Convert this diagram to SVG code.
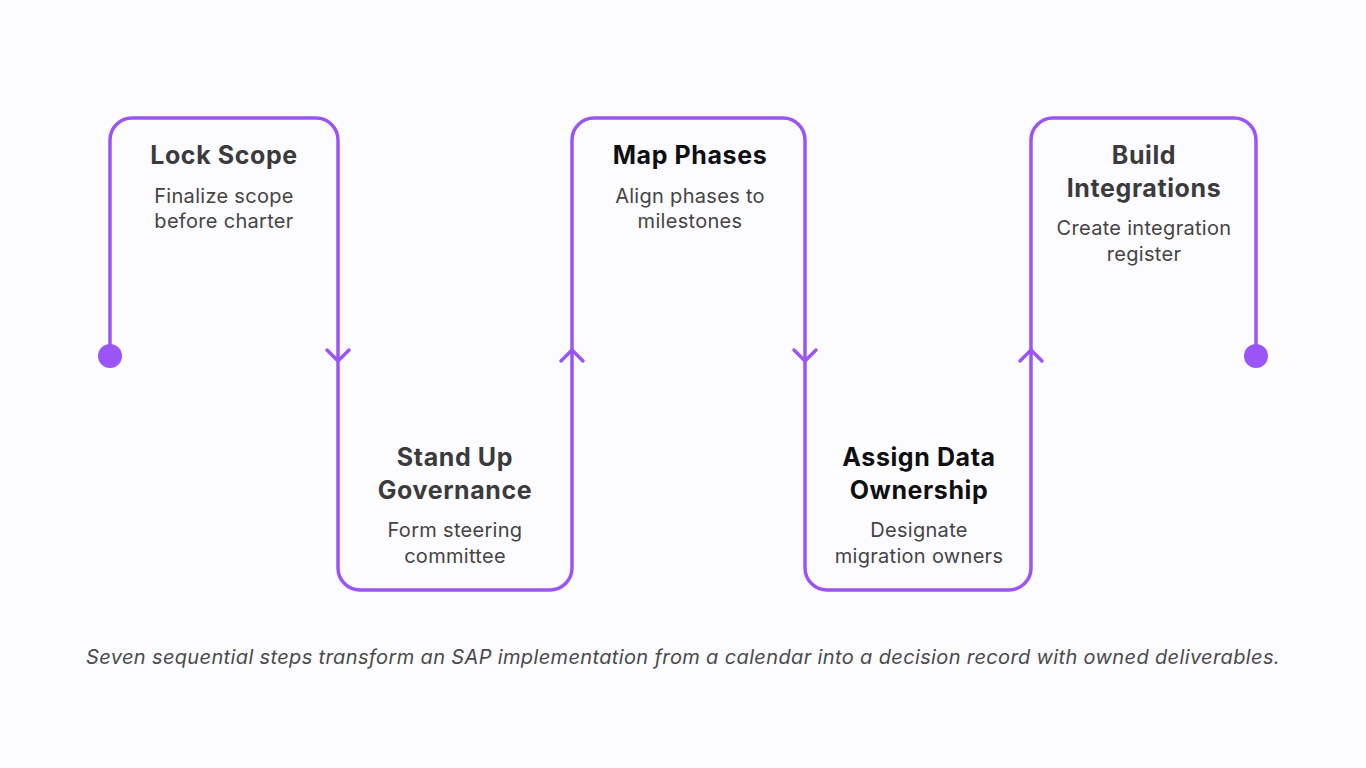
<svg xmlns="http://www.w3.org/2000/svg" width="1366" height="768" viewBox="0 0 1366 768">
<defs>
<style>
.t{font-family:Inter,"Noto Sans",sans-serif;font-weight:700;font-size:25px;letter-spacing:0.6px;fill:#3b3b3d;text-anchor:middle}
.t.k{fill:#0f0f12}
.s{font-family:Inter,"Noto Sans",sans-serif;font-weight:400;font-size:20px;letter-spacing:0.3px;fill:#444446;text-anchor:middle}
.c{font-family:Inter,"Noto Sans",sans-serif;font-style:italic;font-size:20px;letter-spacing:0.36px;fill:#4a4a4c;text-anchor:middle}
.ln{fill:none;stroke:#9b55f6;stroke-width:3.5;stroke-linecap:round;stroke-linejoin:round}
</style>
</defs>
<rect width="1366" height="768" fill="#fcfbfd"/>
<g id="connectors">
<path class="ln" d="M110 356 V140 A22 22 0 0 1 132 118 H316 A22 22 0 0 1 338 140 V568 A22 22 0 0 0 360 590 H550 A22 22 0 0 0 572 568 V140 A22 22 0 0 1 594 118 H783 A22 22 0 0 1 805 140 V568 A22 22 0 0 0 827 590 H1009 A22 22 0 0 0 1031 568 V140 A22 22 0 0 1 1053 118 H1234 A22 22 0 0 1 1256 140 V356"/>
<path class="ln" d="M327 350 L338 361 L349 350"/>
<path class="ln" d="M561 361 L572 350 L583 361"/>
<path class="ln" d="M794 350 L805 361 L816 350"/>
<path class="ln" d="M1020 361 L1031 350 L1042 361"/>
<circle cx="110" cy="356" r="12" fill="#9b55f6"/>
<circle cx="1256" cy="356" r="12" fill="#9b55f6"/>
</g>
<g id="node-lock-scope">
<text class="t" x="224" y="164">Lock Scope</text>
<text class="s" x="224" y="203">Finalize scope</text>
<text class="s" x="224" y="228">before charter</text>
</g>
<g id="node-stand-up-governance">
<text class="t" x="455" y="466">Stand Up</text>
<text class="t" x="455" y="499">Governance</text>
<text class="s" x="455" y="537">Form steering</text>
<text class="s" x="455" y="563">committee</text>
</g>
<g id="node-map-phases">
<text class="t k" x="690" y="164">Map Phases</text>
<text class="s" x="690" y="203">Align phases to</text>
<text class="s" x="690" y="228">milestones</text>
</g>
<g id="node-assign-data-ownership">
<text class="t k" x="919" y="466">Assign Data</text>
<text class="t k" x="919" y="499">Ownership</text>
<text class="s" x="919" y="537">Designate</text>
<text class="s" x="919" y="563">migration owners</text>
</g>
<g id="node-build-integrations">
<text class="t" x="1144" y="164">Build</text>
<text class="t" x="1144" y="197">Integrations</text>
<text class="s" x="1144" y="235">Create integration</text>
<text class="s" x="1144" y="261">register</text>
</g>
<text class="c" x="683" y="664">Seven sequential steps transform an SAP implementation from a calendar into a decision record with owned deliverables.</text>
</svg>
